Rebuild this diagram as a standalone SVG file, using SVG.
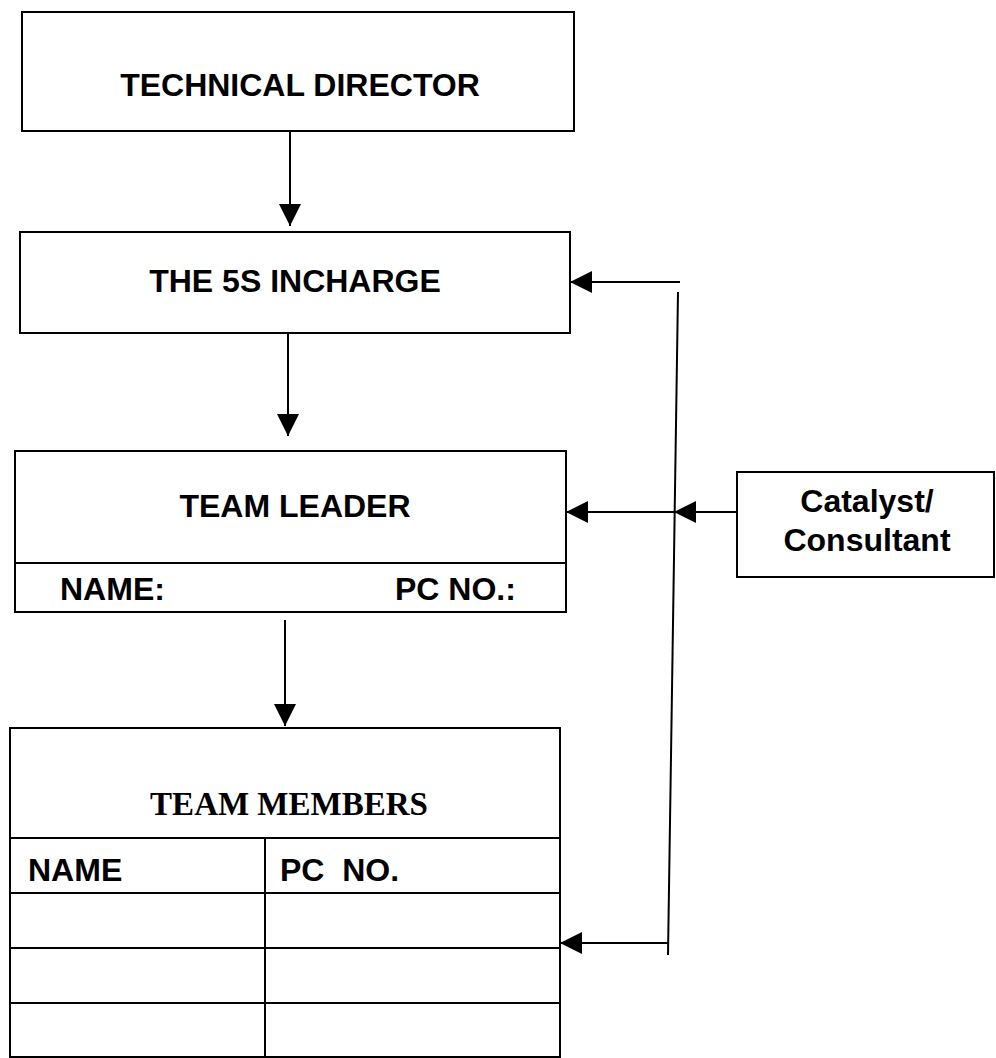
<svg xmlns="http://www.w3.org/2000/svg" width="996" height="1058" viewBox="0 0 996 1058">
<defs>
<style>
.box{fill:#fff;stroke:#000;stroke-width:2}
.ln{fill:none;stroke:#000;stroke-width:2}
.t{font-family:"Liberation Sans",Arial,sans-serif;font-weight:bold;font-size:32px;fill:#000}
.s{font-family:"Liberation Serif","Times New Roman",serif;font-weight:bold;font-size:33px;fill:#000}
</style>
<marker id="ah" markerUnits="userSpaceOnUse" markerWidth="24" markerHeight="22" refX="22" refY="11" orient="auto">
<path d="M0,0 L22,11 L0,22 Z" fill="#000"/>
</marker>
</defs>
<rect width="996" height="1058" fill="#fff"/>
<g id="connectors">
<line class="ln" x1="290" y1="131" x2="290" y2="226" marker-end="url(#ah)"/>
<line class="ln" x1="288" y1="333" x2="288" y2="436" marker-end="url(#ah)"/>
<line class="ln" x1="285" y1="620" x2="285" y2="726" marker-end="url(#ah)"/>
<line class="ln" x1="680" y1="282" x2="570" y2="282" marker-end="url(#ah)"/>
<line class="ln" x1="678" y1="292" x2="668" y2="955"/>
<line class="ln" x1="737" y1="512" x2="674" y2="512" marker-end="url(#ah)"/>
<line class="ln" x1="674" y1="512" x2="566" y2="512" marker-end="url(#ah)"/>
<line class="ln" x1="668" y1="943" x2="560" y2="943" marker-end="url(#ah)"/>
</g>
<g id="technical-director">
<rect class="box" x="22" y="12" width="552" height="119"/>
<text class="t" x="300" y="96" text-anchor="middle">TECHNICAL DIRECTOR</text>
</g>
<g id="incharge">
<rect class="box" x="20" y="232" width="550" height="101"/>
<text class="t" x="295" y="292" text-anchor="middle">THE 5S INCHARGE</text>
</g>
<g id="team-leader">
<rect class="box" x="15" y="451" width="551" height="161"/>
<line class="ln" x1="15" y1="563" x2="566" y2="563"/>
<text class="t" x="295" y="517" text-anchor="middle">TEAM LEADER</text>
<text class="t" x="60" y="600">NAME:</text>
<text class="t" x="395" y="600">PC NO.:</text>
</g>
<g id="team-members">
<rect class="box" x="10" y="728" width="550" height="329"/>
<text class="s" x="289" y="815" text-anchor="middle">TEAM MEMBERS</text>
<line class="ln" x1="10" y1="838" x2="560" y2="838"/>
<line class="ln" x1="10" y1="893" x2="560" y2="893"/>
<line class="ln" x1="10" y1="948" x2="560" y2="948"/>
<line class="ln" x1="10" y1="1003" x2="560" y2="1003"/>
<line class="ln" x1="265" y1="838" x2="265" y2="1057"/>
<text class="t" x="28" y="881">NAME</text>
<text class="t" x="280" y="881" xml:space="preserve">PC  NO.</text>
</g>
<g id="consultant">
<rect class="box" x="737" y="472" width="257" height="105"/>
<text class="t" x="867" y="512" text-anchor="middle">Catalyst/</text>
<text class="t" x="867" y="551" text-anchor="middle">Consultant</text>
</g>
</svg>
